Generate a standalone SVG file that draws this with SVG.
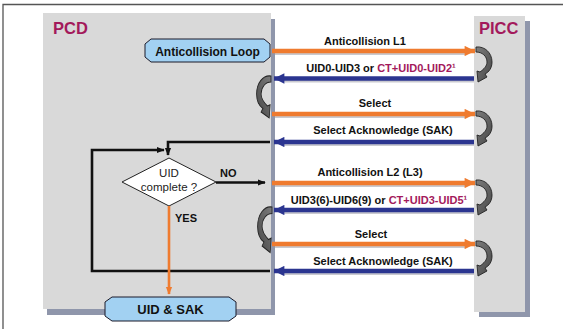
<svg xmlns="http://www.w3.org/2000/svg" width="563" height="329" viewBox="0 0 563 329">
<defs>
<style>
.lbl{font-family:"Liberation Sans",Arial,sans-serif;font-weight:bold;font-size:11px;fill:#111;}
.mag{fill:#a3195b;}
.title{font-family:"Liberation Sans",Arial,sans-serif;font-weight:bold;font-size:16.5px;fill:#a3195b;}
.box{fill:#a2d1f2;stroke:#1a1a2a;stroke-width:1;}
.boxt{font-family:"Liberation Sans",Arial,sans-serif;font-weight:bold;fill:#111;text-anchor:middle;}
.or{stroke:#ef7b2f;stroke-width:4.5;fill:none;}
.bl{stroke:#2b3590;stroke-width:4.5;fill:none;}
.sh{stroke:#c9c9cf;stroke-width:3;fill:none;}
.blk{stroke:#111;stroke-width:2.6;fill:none;}
.curl{fill:url(#cg);stroke:#222;stroke-width:0.9;}
</style>
<linearGradient id="cg" x1="0" y1="0" x2="1" y2="1">
<stop offset="0" stop-color="#7c7c7c"/>
<stop offset="1" stop-color="#474747"/>
</linearGradient>
<marker id="ao" viewBox="0 0 10 10" refX="10" refY="5" markerWidth="2.6" markerHeight="2.3" orient="auto" markerUnits="strokeWidth"><path d="M0,0L10,5L0,10z" fill="#ef7b2f"/></marker>
<marker id="ab" viewBox="0 0 10 10" refX="10" refY="5" markerWidth="2.6" markerHeight="2.3" orient="auto" markerUnits="strokeWidth"><path d="M0,0L10,5L0,10z" fill="#2b3590"/></marker>
<marker id="ak" viewBox="0 0 10 10" refX="9" refY="5" markerWidth="3" markerHeight="3" orient="auto" markerUnits="strokeWidth"><path d="M0,1L10,5L0,9z" fill="#111"/></marker>
<marker id="ayo" viewBox="0 0 10 10" refX="9" refY="5" markerWidth="3" markerHeight="3" orient="auto" markerUnits="strokeWidth"><path d="M0,1L10,5L0,9z" fill="#ef7b2f"/></marker>
<path id="curl" d="M0,0 C9,-1 16,6 16,15 C16,21 13,25 9,27 L11,30 L2,35 L1,24 L4,25 C8,22 11,19 11,15 C11,9 6,5 0,5 Z"/>
</defs>

<path d="M3,329 V4.5 H563" fill="none" stroke="#555" stroke-width="1.3"/>

<g id="pcd">
<rect x="47" y="19" width="228" height="296" fill="#8f96ab"/>
<rect x="43" y="13" width="228" height="296" fill="#d9d9d9"/>
<text class="title" x="53" y="34">PCD</text>
</g>

<g id="picc">
<rect x="479" y="21" width="51" height="296" fill="#8f96ab"/>
<rect x="474" y="16" width="51" height="296" fill="#d9d9d9"/>
<text class="title" x="479" y="34">PICC</text>
</g>

<g id="anticollision-loop">
<path class="box" d="M151,39 H264 L270,44 V57 L264,62 H151 L145,57 V44 Z"/>
<text class="boxt" x="207.5" y="55.5" font-size="12">Anticollision Loop</text>
</g>

<g id="uid-sak">
<path class="box" d="M112,297 H229 L236,302 V316 L229,321 H112 L105,316 V302 Z"/>
<text class="boxt" x="170.5" y="314" font-size="13">UID &amp; SAK</text>
</g>

<g id="decision">
<path d="M169,158 L216,182 L169,206 L122,182 Z" fill="#fff" stroke="#222" stroke-width="1"/>
<text x="169" y="177" font-family="'Liberation Sans',Arial,sans-serif" font-size="11.5" fill="#222" text-anchor="middle">UID</text>
<text x="169" y="191" font-family="'Liberation Sans',Arial,sans-serif" font-size="11.5" fill="#222" text-anchor="middle">complete ?</text>
</g>

<g id="connectors">
<path class="sh" d="M275,53.5 H466 M283,81 H474 M275,116.5 H466 M283,144.5 H474 M275,185.5 H466 M283,212.5 H474 M275,246.5 H466 M283,273.5 H474"/>
<line class="or" x1="272" y1="51" x2="475" y2="51" marker-end="url(#ao)"/>
<line class="bl" x1="474" y1="78.5" x2="274" y2="78.5" marker-end="url(#ab)"/>
<line class="or" x1="272" y1="114" x2="475" y2="114" marker-end="url(#ao)"/>
<line class="bl" x1="474" y1="142" x2="274" y2="142" marker-end="url(#ab)"/>
<line class="or" x1="272" y1="183" x2="475" y2="183" marker-end="url(#ao)"/>
<line class="bl" x1="474" y1="210" x2="274" y2="210" marker-end="url(#ab)"/>
<line class="or" x1="272" y1="244" x2="475" y2="244" marker-end="url(#ao)"/>
<line class="bl" x1="474" y1="271" x2="274" y2="271" marker-end="url(#ab)"/>

<use href="#curl" class="curl" transform="translate(476,47)"/>
<use href="#curl" class="curl" transform="translate(476,111)"/>
<use href="#curl" class="curl" transform="translate(476,180)"/>
<use href="#curl" class="curl" transform="translate(476,241)"/>
<use href="#curl" class="curl" transform="translate(271,76) scale(-0.9,1.2)"/>
<use href="#curl" class="curl" transform="translate(272,207) scale(-0.9,1.3)"/>

<path class="blk" d="M270,142 H168 V155" marker-end="url(#ak)"/>
<path class="blk" d="M270,271 H92 V150 H164" marker-end="url(#ak)"/>
<line class="blk" x1="216" y1="182.5" x2="265" y2="182.5" marker-end="url(#ak)"/>
<line x1="169" y1="206" x2="169" y2="294" stroke="#ef7b2f" stroke-width="2.6" marker-end="url(#ayo)"/>

<text class="lbl" x="365" y="45" text-anchor="middle">Anticollision L1</text>
<text class="lbl" x="381" y="72" text-anchor="middle">UID0-UID3 or <tspan class="mag">CT+UID0-UID2¹</tspan></text>
<text class="lbl" x="375" y="107" text-anchor="middle">Select</text>
<text class="lbl" x="383" y="134" text-anchor="middle">Select Acknowledge (SAK)</text>
<text class="lbl" x="370" y="176" text-anchor="middle">Anticollision L2 (L3)</text>
<text class="lbl" x="379" y="204" text-anchor="middle">UID3(6)-UID6(9) or <tspan class="mag">CT+UID3-UID5¹</tspan></text>
<text class="lbl" x="371" y="238" text-anchor="middle">Select</text>
<text class="lbl" x="383" y="265" text-anchor="middle">Select Acknowledge (SAK)</text>
<text class="lbl" x="220" y="177">NO</text>
<text class="lbl" x="175" y="222">YES</text>
</g>
</svg>
